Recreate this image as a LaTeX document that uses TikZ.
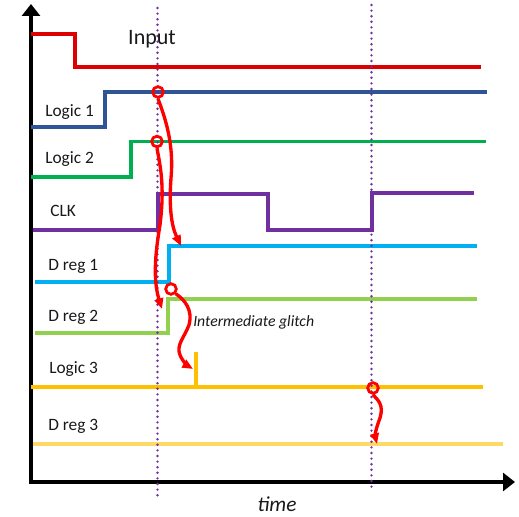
\documentclass[tikz,border=0pt]{standalone}
\usepackage{fontspec}
\setmainfont{Carlito}
\usetikzlibrary{arrows.meta}
\definecolor{cinput}{RGB}{222,0,0}
\definecolor{carrow}{RGB}{255,0,0}
\definecolor{cblue}{RGB}{47,85,151}
\definecolor{cgreen}{RGB}{0,176,80}
\definecolor{cpurple}{RGB}{112,48,160}
\definecolor{ccyan}{RGB}{0,176,240}
\definecolor{clgreen}{RGB}{146,208,80}
\definecolor{corange}{RGB}{255,192,0}
\definecolor{cyellow}{RGB}{255,217,102}
\definecolor{ctext}{RGB}{25,25,25}
\begin{document}
\begin{tikzpicture}[x=0.75pt,y=-0.75pt,
  axis/.style={line width=3pt,draw=black,-{Triangle[length=9pt,width=13.5pt]}},
  sig/.style={line width=2.3pt,line join=miter},
  dotline/.style={draw=cpurple,line width=2pt,line cap=round,dash pattern=on 0pt off 4.2pt},
  lab/.style={font=\fontsize{13}{15}\selectfont,text=ctext,inner sep=0pt},
  circ/.style={circle,draw=carrow,line width=2.1pt,minimum size=8pt,inner sep=0pt},
  redarr/.style={draw=carrow,line width=2.5pt,-{Triangle[length=8pt,width=6.5pt]}}
]
\useasboundingbox (0,0) rectangle (519,517);
% axes
\coordinate (origin) at (31,482);
\coordinate (ytip) at (31,4);
\coordinate (xtip) at (515,482);
\draw[axis] (31,484) -- (ytip);
\draw[axis] (29,482) -- (xtip);
% signals
\draw[sig,cinput] (31,34) -- (75,34) -- (75,67) -- (481,67);
\draw[sig,cblue] (31,127) -- (105,127) -- (105,92) -- (487,92);
\draw[sig,cgreen] (31,177) -- (131,177) -- (131,141.5) -- (486,141.5);
\draw[sig,cpurple] (33,230) -- (158,230) -- (158,194) -- (268,194) -- (268,230) -- (372,230) -- (372,193) -- (474,193);
\draw[sig,ccyan] (35,282) -- (169,282) -- (169,246) -- (477,246);
\draw[sig,clgreen] (35,333) -- (168,333) -- (168,299) -- (477,299);
\draw[sig,corange] (31,387) -- (483,387);
\draw[corange,line width=3.2pt] (196,388) -- (196,352);
\draw[sig,cyellow] (33,444) -- (503,444);
% dotted time markers
\draw[dotline] (157.5,8) -- (157.5,497);
\draw[dotline] (371.5,5) -- (371.5,492);
% labels
\node[lab,font=\fontsize{16.5}{18}\selectfont] (linput) at (152,39) {Input};
\node[lab,anchor=west] (llogic1) at (45,112) {Logic 1};
\node[lab,anchor=west] (llogic2) at (45,159) {Logic 2};
\node[lab,anchor=west] (lclk) at (50,211) {CLK};
\node[lab,anchor=west] (ldreg1) at (48,266) {D reg 1};
\node[lab,anchor=west] (ldreg2) at (48,317) {D reg 2};
\node[lab,anchor=west] (llogic3) at (49,369) {Logic 3};
\node[lab,anchor=west] (ldreg3) at (48,426) {D reg 3};
\node[lab,anchor=west,font=\fontsize{11.8}{14}\selectfont\itshape] (lglitch) at (193,322) {Intermediate glitch};
\node[lab,font=\fontsize{16}{18}\selectfont\itshape] (ltime) at (277,504) {time};
% red circles
\node[circ] (c1) at (158,92) {};
\node[circ] (c2) at (157,141.5) {};
\node[circ] (c3) at (171,289) {};
\node[circ] (c4) at (373,388) {};
% arrow targets
\coordinate (t1) at (181,246);
\coordinate (t2) at (162,309);
\coordinate (t3) at (193,369);
\coordinate (t4) at (377,444);
% red arrows
\draw[redarr] (c1.south) .. controls (166,120) and (174,145) .. (171,178)
  .. controls (169,205) and (171,225) .. (t1);
\draw[redarr] (c2.south) .. controls (160,165) and (165,185) .. (160,225)
  .. controls (155,255) and (153,280) .. (t2);
\draw[redarr] (c3.south east) .. controls (185,300) and (193,310) .. (189,325)
  .. controls (184,338) and (176,345) .. (180,355)
  .. controls (183,362) and (188,366) .. (t3);
\draw[redarr] (c4.south) .. controls (378,400) and (384,405) .. (380,418)
  .. controls (376,428) and (375,436) .. (t4);
\end{tikzpicture}
\end{document}
